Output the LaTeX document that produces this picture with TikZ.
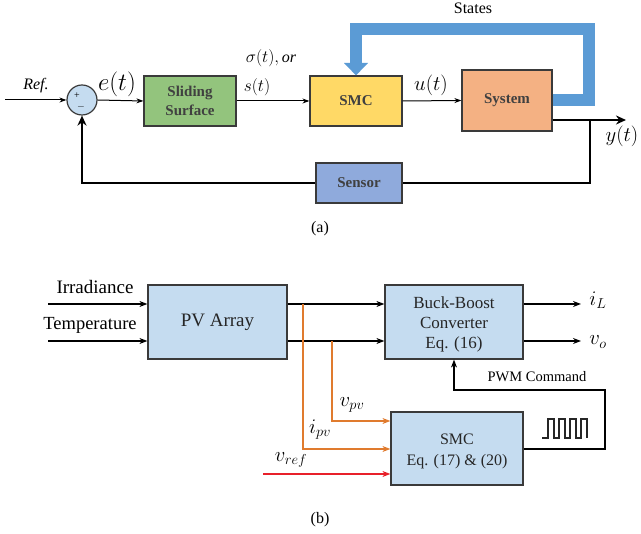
\documentclass[tikz,border=0pt]{standalone}
\usepackage{fontspec}
\setmainfont{Liberation Serif}
\usetikzlibrary{arrows.meta}
\definecolor{ssgreen}{HTML}{93C47D}
\definecolor{smcyellow}{HTML}{FFD966}
\definecolor{sysorange}{HTML}{F4B183}
\definecolor{senblue}{HTML}{8FAADC}
\definecolor{lightblue}{HTML}{C5DCF0}
\definecolor{bandblue}{HTML}{5B9BD5}
\definecolor{boxedge}{HTML}{3A3A3A}
\definecolor{sigorange}{HTML}{E07B2E}
\definecolor{sigred}{HTML}{E8202A}
\newcommand{\fs}[1]{\fontsize{#1}{#1}\selectfont}
\tikzset{
  blk/.style={draw=boxedge, line width=1.2pt, inner sep=0pt, align=center, text=black!85},
  ablk/.style={blk, font=\fs{15}\bfseries, text=black!75},
  bblk/.style={blk, fill=lightblue},
  thin/.style={line width=1pt, -{Stealth[length=7pt,width=5pt]}},
  thick/.style={line width=2.6pt},
  bline/.style={line width=1.3pt, -{Stealth[length=8pt,width=6pt]}},
  lbl/.style={inner sep=0pt},
}
\begin{document}
\begin{tikzpicture}[x=1pt,y=-1pt]
\useasboundingbox (0,0) rectangle (641,534);
% ---------------- (a)
\node[circle, draw=boxedge, line width=1.2pt, fill=lightblue, minimum size=30pt, inner sep=0pt] (sum) at (82,100) {};
\node[lbl, font=\fs{10}] (plus) at (77,96) {+};
\node[lbl, font=\fs{10}] (minus) at (81,107) {$-$};
\node[ablk, fill=ssgreen, minimum width=92pt, minimum height=50pt] (ss) at (190,101) {Sliding\\[4pt]Surface};
\node[ablk, fill=smcyellow, minimum width=92pt, minimum height=50pt] (smc) at (356,101) {SMC};
\node[ablk, fill=sysorange, minimum width=90pt, minimum height=61pt] (sys) at (507,100.5) {System};
\node[ablk, fill=senblue, minimum width=86pt, minimum height=40pt] (sen) at (359,183) {Sensor};
\coordinate (ref) at (5,100);
\coordinate (yout) at (626,120);
\coordinate (br) at (590,120);
\coordinate (fb) at (82,183);
\node[lbl, font=\fs{16}\itshape] (reft) at (36,86) {Ref.};
\node[lbl, font=\fs{23}] (et) at (117,84) {$e(t)$};
\node[lbl, font=\fs{16}] (sig) at (271,58) {$\sigma(t),$\,\textit{or}};
\node[lbl, font=\fs{17}] (st) at (257,87) {$s(t)$};
\node[lbl, font=\fs{22}] (ut) at (431,85) {$u(t)$};
\node[lbl, font=\fs{22}] (yt) at (622,136) {$y(t)$};
\node[lbl, font=\fs{16}] (states) at (473,8) {States};
\node[lbl, font=\fs{16}] (capa) at (320,229) {(a)};
\draw[thin] (ref) -- (sum.west);
\draw[thin] (sum.east) -- (ss.west);
\draw[thin] (ss.east) -- (smc.west);
\draw[thin] (smc.east) -- (sys.west);
\draw[thick, -{Stealth[length=10pt,width=9pt]}] (sys.east |- yout) -- (yout);
\draw[thick] (br) |- (sen.east);
\draw[thick, -{Stealth[length=10pt,width=9pt]}] (sen.west) -- (fb) -- (sum.south);
% states band
\coordinate (b1) at (589,100);
\coordinate (b2) at (589,29);
\coordinate (b3) at (356,29);
\coordinate (b4) at (356,64);
\draw[bandblue, line width=12pt] (sys.east |- b1) -- (b1) -- (b2) -- (b3) -- (b4);
\fill[bandblue] (344,63) -- (368,63) -- (smc.north) -- cycle;
% ---------------- (b)
\node[bblk, minimum width=139pt, minimum height=74pt, font=\fs{19}] (pv) at (217.5,322) {PV Array};
\node[bblk, minimum width=138pt, minimum height=74pt, font=\fs{17}] (bb) at (454,322) {};
\node[lbl, align=center, font=\fs{17}, text=black!85] (bbt) at ([yshift=-2pt]bb.center) {Buck-Boost\\[3pt]Converter\\[3pt]Eq. (16)};
\node[bblk, minimum width=132pt, minimum height=73pt] (smc2) at (457,448.5) {};
\node[lbl, align=center, font=\fs{16}, text=black!85] (smc2t) at ([yshift=-3pt]smc2.center) {SMC\\[5pt]Eq. (17) \& (20)};
\node[lbl, font=\fs{19}] (irr) at (95,287) {Irradiance};
\node[lbl, font=\fs{18.5}] (tem) at (90,325) {Temperature};
\coordinate (in1) at (48,304);
\coordinate (in2) at (48,341);
\draw[bline] (in1) -- (pv.west |- in1);
\draw[bline] (in2) -- (pv.west |- in2);
\draw[bline] (pv.east |- in1) -- (bb.west |- in1);
\draw[bline] (pv.east |- in2) -- (bb.west |- in2);
\coordinate (o1) at (581,304);
\coordinate (o2) at (581,341);
\draw[bline] (bb.east |- o1) -- (o1);
\draw[bline] (bb.east |- o2) -- (o2);
\node[lbl, font=\fs{21}] (iL) at (598,300) {$i_L$};
\node[lbl, font=\fs{21}] (vo) at (598,342) {$v_o$};
% orange / red signals
\coordinate (ti) at (303,304);
\coordinate (ci) at (303,449);
\coordinate (tv) at (332,341);
\coordinate (cv) at (332,421);
\coordinate (rr) at (263,474);
\draw[sigorange, line width=1.3pt, -{Stealth[length=8pt,width=6pt]}] (ti) -- (ci) -- (smc2.west |- ci);
\draw[sigorange, line width=1.3pt, -{Stealth[length=8pt,width=6pt]}] (tv) -- (cv) -- (smc2.west |- cv);
\draw[sigred, line width=1.3pt, -{Stealth[length=8pt,width=6pt]}] (rr) -- (smc2.west |- rr);
\node[lbl, font=\fs{20}] (vpv) at (352,405) {$v_{pv}$};
\node[lbl, font=\fs{20}] (ipv) at (320,430) {$i_{pv}$};
\node[lbl, font=\fs{20}] (vref) at (291,460) {$v_{ref}$};
% PWM
\coordinate (p1) at (605,449);
\coordinate (p2) at (605,390);
\coordinate (p3) at (454,390);
\draw[bline] (smc2.east |- p1) -- (p1) -- (p2) -- (p3) -- (bb.south);
\node[lbl, font=\fs{14.5}] (pwm) at (537,377) {PWM Command};
\draw[line width=1.2pt, black!85] (542,438) -- (548,438) -- (548,419) -- (554,419) -- (554,438) -- (559,438) -- (559,419) -- (565,419) -- (565,438) -- (570,438) -- (570,419) -- (576,419) -- (576,438) -- (581,438) -- (581,419) -- (587,419) -- (587,438);
\node[lbl, font=\fs{16}] (capb) at (320,520) {(b)};
\end{tikzpicture}
\end{document}
